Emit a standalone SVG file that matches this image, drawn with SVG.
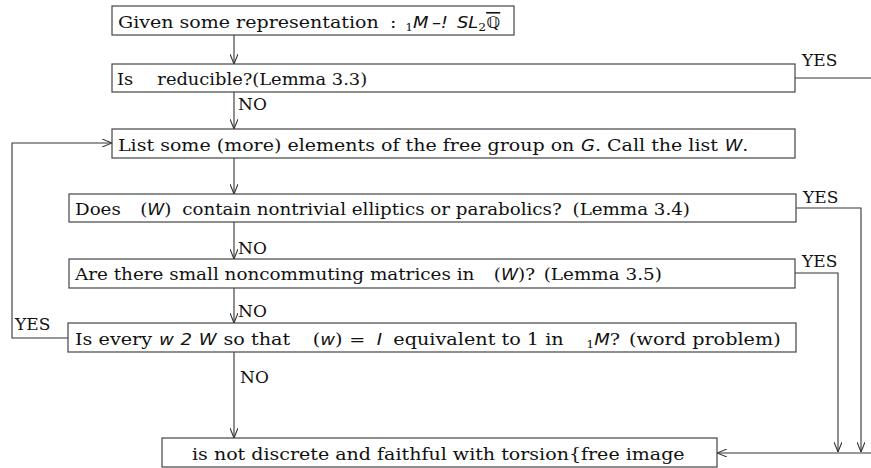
<svg xmlns="http://www.w3.org/2000/svg" width="871" height="468" viewBox="0 0 871 468">
<style>
.box{fill:#fff;stroke:#444;stroke-width:1.2}
.c{fill:none;stroke:#333;stroke-width:1.1}
text{font-family:"DejaVu Serif","Liberation Serif",serif;font-size:17px;fill:#111}
.m{font-family:"DejaVu Sans",sans-serif;font-style:italic;font-size:16px}
.s{font-size:11px}
.q{font-family:"DejaVu Sans",sans-serif;font-size:16px;text-decoration:overline}
</style>
<defs>
<marker id="a" viewBox="0 0 10 8" refX="10" refY="4" markerWidth="10" markerHeight="8" markerUnits="userSpaceOnUse" orient="auto">
<path d="M0,0 L10,4 L0,8" fill="none" stroke="#333" stroke-width="1.1"/>
</marker>
</defs>
<rect width="871" height="468" fill="#fff"/>
<g id="connectors">
<path class="c" d="M234,35 V64" marker-end="url(#a)"/>
<path class="c" d="M234,92 V129" marker-end="url(#a)"/>
<path class="c" d="M795,78 H871"/>
<path class="c" d="M234,158 V194" marker-end="url(#a)"/>
<path class="c" d="M234,222 V259" marker-end="url(#a)"/>
<path class="c" d="M796,208 H861 V452" marker-end="url(#a)"/>
<path class="c" d="M234,288 V323" marker-end="url(#a)"/>
<path class="c" d="M795,273 H838 V452" marker-end="url(#a)"/>
<path class="c" d="M68,338 H12 V143 H112" marker-end="url(#a)"/>
<path class="c" d="M234,352 V438" marker-end="url(#a)"/>
<path class="c" d="M871,453 H717" marker-end="url(#a)"/>
<text x="238" y="110">NO</text>
<text x="802" y="66">YES</text>
<text x="238" y="254">NO</text>
<text x="803" y="203">YES</text>
<text x="238" y="317">NO</text>
<text x="802" y="267">YES</text>
<text x="15" y="330">YES</text>
<text x="240" y="383">NO</text>
</g>
<g id="n1">
<rect class="box" x="112" y="6" width="402" height="29"/>
<text x="118" y="28" transform="translate(118,0) scale(1.12,1) translate(-118,0)">Given some representation<tspan dx="10">:</tspan><tspan class="s" dx="8" dy="3">1</tspan><tspan class="m" dy="-3">M</tspan><tspan class="m" dx="3">–!</tspan><tspan class="m" dx="8">SL</tspan><tspan class="s" dy="3">2</tspan><tspan class="q" dy="-3">ℚ</tspan></text>
</g>
<g id="n2">
<rect class="box" x="112" y="64" width="683" height="28"/>
<text x="117" y="85" transform="translate(117,0) scale(1.05,1) translate(-117,0)">Is<tspan dx="23">reducible?(Lemma 3.3)</tspan></text>
</g>
<g id="n3">
<rect class="box" x="112" y="129" width="683" height="29"/>
<text x="118" y="151" transform="translate(118,0) scale(1.12,1) translate(-118,0)">List some (more) elements of the free group on<tspan class="m" dx="6">G</tspan>. Call the list<tspan class="m" dx="6">W</tspan>.</text>
</g>
<g id="n4">
<rect class="box" x="69" y="194" width="727" height="28"/>
<text x="75" y="215" transform="translate(75,0) scale(1.075,1) translate(-75,0)">Does<tspan dx="18">(</tspan><tspan class="m">W</tspan>)<tspan dx="10">contain nontrivial elliptics or parabolics?</tspan><tspan dx="10">(Lemma 3.4)</tspan></text>
</g>
<g id="n5">
<rect class="box" x="69" y="259" width="726" height="29"/>
<text x="75" y="280" transform="translate(75,0) scale(1.08,1) translate(-75,0)">Are there small noncommuting matrices in<tspan dx="18">(</tspan><tspan class="m">W</tspan>)?<tspan dx="8">(Lemma 3.5)</tspan></text>
</g>
<g id="n6">
<rect class="box" x="68" y="323" width="728" height="29"/>
<text x="75" y="345" transform="translate(75,0) scale(1.13,1) translate(-75,0)">Is every<tspan class="m" dx="6">w</tspan><tspan class="m" dx="6">2</tspan><tspan class="m" dx="6">W</tspan><tspan dx="6">so that</tspan><tspan dx="20">(</tspan><tspan class="m">w</tspan>)<tspan dx="6">=</tspan><tspan class="m" dx="10">I</tspan><tspan dx="10">equivalent to 1 in</tspan><tspan class="s" dx="20" dy="3">1</tspan><tspan class="m" dy="-3">M</tspan>?<tspan dx="8">(word problem)</tspan></text>
</g>
<g id="n7">
<rect class="box" x="162" y="438" width="555" height="29"/>
<text x="192" y="460" transform="translate(192,0) scale(1.12,1) translate(-192,0)">is not discrete and faithful with torsion{free image</text>
</g>
</svg>
